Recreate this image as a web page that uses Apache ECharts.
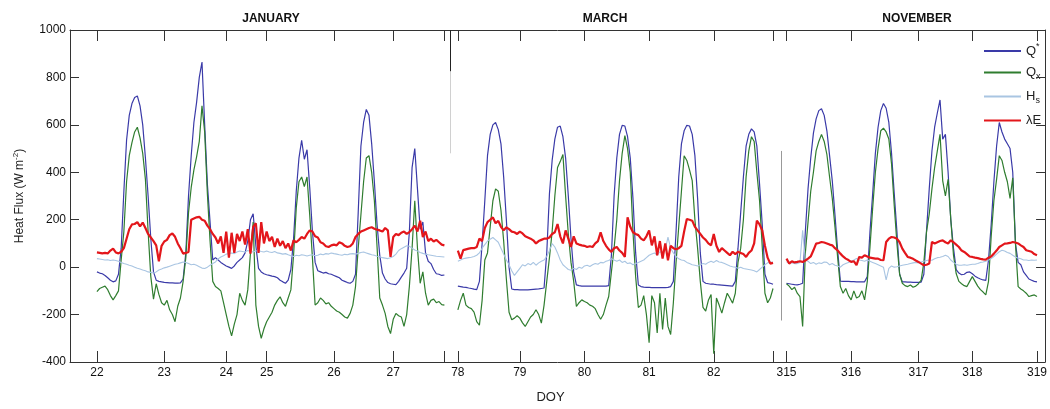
<!DOCTYPE html>
<html><head><meta charset="utf-8">
<script src="https://cdn.jsdelivr.net/npm/echarts@6/dist/echarts.min.js"></script>
<style>html,body{margin:0;padding:0;background:#fff}#c{width:1050px;height:409px}</style>
</head><body><div id="c"></div>
<script>
// hourly sample slots along the broken DOY axis
const N = 363;
const janStart = 10, marStart = 144, novStart = 266;
const tickIdx    = [10, 35, 58, 73, 98, 120, 139, 144, 167, 191, 215, 239, 261, 266, 290, 315, 335, 359];
const tickLabels = ['22','23','24','25','26','27','','78','79','80','81','82','','315','316','317','318','319'];
const monthNames = ['JANUARY', 'MARCH', 'NOVEMBER'];

// Q* (net radiation)
const qStarJan = [-20,-25,-28,-35,-45,-55,-62,-58,-30,80,
320,535,640,690,715,722,680,600,460,300,
120,-20,-55,-60,-62,-64,-65,-66,-66,-67,
-67,-66,-50,60,300,470,610,695,800,865,
600,350,190,30,40,30,20,12,5,0,
-5,5,20,30,40,60,110,200,225,90,
-5,-20,-28,-32,-35,-38,-40,-45,-55,-62,
-68,-55,-10,120,320,460,535,455,495,336,
150,20,-15,-20,-25,-22,-28,-30,-35,-40,
-45,-55,-60,-65,-68,-60,-30,230,510,610,
665,640,520,360,180,50,-25,-50,-65,-70,
-72,-74,-60,-42,-25,-5,150,420,500,330,
160,190,60,25,15,-10,-28,-30,-35,-33];
const qStarMar = [-80,-82,-84,-85,-88,-90,-93,-95,-60,100,
280,470,560,600,610,580,520,380,200,0,
-92,-95,-95,-96,-96,-96,-96,-95,-94,-93,
-92,-90,-88,60,310,450,540,590,595,550,
460,300,120,-20,-75,-78,-80,-80,-80,-80,
-80,-80,-80,-80,-80,-80,-78,50,300,460,
560,598,595,550,460,290,60,-75,-82,-84,
-85,-85,-86,-86,-86,-86,-86,-86,-85,-82,
-60,150,380,520,575,598,595,560,470,290,
60,-60,-68,-70,-72,-72,-74,-75,-76,-77,
-78,-79,-80,-60,80,230,380,510,560,583,
570,510,350,180,-30,-65,-68,-72];
const qStarNov = [-68,-70,-72,-74,-75,-72,-68,150,330,460,
565,625,660,668,640,575,470,364,220,70,
-59,-60,-60,-60,-61,-61,-62,-62,-62,-62,
-40,150,310,480,590,660,690,670,610,480,
310,150,-30,-62,-62,-63,-63,-64,-64,-64,
-63,-30,155,330,490,590,650,705,540,560,
400,200,80,-10,-25,-32,-30,-22,-20,-28,
-38,-45,-50,-54,-56,30,180,360,510,610,
570,540,520,500,400,100,20,10,-20,-35,
-50,-55,-60,-62];

// Qx
const qxJan = [-103,-90,-85,-80,-95,-120,-138,-120,-100,30,
150,360,470,525,570,590,545,480,370,150,
-40,-135,-70,-115,-150,-160,-140,-180,-200,-230,
-165,-130,-60,40,230,336,410,465,530,680,
570,310,110,-60,-82,-90,-100,-150,-200,-250,
-290,-240,-200,-110,-140,-160,-96,60,190,-160,
-250,-300,-260,-230,-210,-190,-160,-140,-125,-150,
-165,-130,-96,50,250,360,380,340,380,220,
40,-160,-150,-130,-140,-155,-150,-165,-175,-185,
-190,-200,-210,-215,-195,-160,-82,80,220,360,
460,470,400,280,85,-130,-160,-195,-250,-280,
-220,-195,-205,-210,-250,-200,-80,80,280,80,
-68,-20,-110,-160,-140,-135,-150,-145,-158,-160];
const qxMar = [-180,-140,-110,-160,-170,-175,-190,-230,-245,-140,
30,60,170,280,330,320,240,110,-50,-190,
-222,-215,-205,-215,-235,-250,-230,-210,-200,-180,
-200,-236,-160,-60,40,150,300,420,445,475,
300,140,20,-60,-166,-150,-138,-145,-150,-160,
-165,-175,-200,-220,-200,-160,-124,-20,80,200,
364,480,555,500,400,150,-40,-170,-160,-120,
-200,-319,-120,-150,-278,-110,-263,-130,-250,-284,
-150,20,170,320,470,450,410,365,200,80,
-60,-170,-185,-140,-115,-365,-130,-160,-194,-150,
-110,-130,-152,-110,20,80,200,380,489,550,
530,400,280,85,-110,-150,-130,-90];
const qxNov = [-70,-80,-95,-85,-110,-124,-250,60,190,320,
400,490,530,560,530,475,380,290,170,40,
-82,-110,-90,-120,-138,-100,-130,-124,-100,-138,
-60,85,250,400,500,575,586,570,540,435,
260,100,-30,-68,-78,-82,-75,-85,-80,-70,
-55,20,150,224,330,420,490,560,364,300,
370,200,50,-27,-60,-70,-78,-82,-60,-40,
-60,-80,-95,-105,-117,-60,130,280,370,470,
450,400,360,290,377,100,-82,-92,-100,-110,
-124,-120,-117,-124];

// Hs
const hsJan = [36,34,32,30,31,28,30,28,25,20,
15,12,8,5,0,-5,-8,-12,-15,-20,
-22,-25,-20,-12,-8,-3,0,4,8,12,
14,18,22,20,15,10,12,8,2,-4,
-6,0,8,15,22,35,43,48,55,57,
60,57,64,68,66,64,70,66,64,68,
70,66,64,68,64,62,66,60,58,55,
57,52,48,45,50,48,52,50,47,50,
52,48,50,55,52,57,55,60,57,55,
52,50,54,52,56,57,55,58,62,64,
60,56,52,50,46,44,40,38,36,40,
45,55,70,78,84,90,88,80,72,68,
62,58,55,52,50,48,46,45,44,43];
const hsMar = [25,30,35,38,40,42,45,50,60,80,
95,110,118,125,115,105,80,55,30,10,
-15,-35,-20,-5,10,5,15,10,20,8,
18,25,30,45,70,99,85,60,30,10,
0,-10,-13,-5,-10,0,-5,5,8,3,
10,15,12,20,18,25,28,35,30,25,
30,20,25,15,18,10,15,20,25,30,
40,50,55,60,50,65,60,75,127,80,
60,45,35,30,28,20,15,10,8,5,
10,15,12,20,25,20,28,22,20,15,
10,5,2,0,-5,0,-6,-8,-10,-12,
-15,-20,-10,0,10,18,22,20];
const hsNov = [22,20,18,15,15,20,155,30,25,15,
20,12,18,15,22,20,10,15,8,5,
0,10,15,20,25,30,36,30,28,25,
30,25,20,15,10,5,0,-54,-5,5,
0,2,5,8,10,12,15,18,20,18,
22,25,28,30,29,35,40,42,45,50,
45,30,20,12,8,8,10,8,10,12,
12,15,20,22,25,30,36,45,55,65,
71,68,62,58,50,43,38,35,30,30,
28,30,29,30];

// lambda E
const leJan = [62,60,58,60,58,70,78,62,58,65,
80,120,160,180,182,190,172,188,165,140,
125,110,92,25,90,108,115,135,142,128,
100,80,57,60,64,200,205,210,212,200,
196,175,160,140,125,100,130,60,150,40,
145,60,140,110,150,95,160,57,170,185,
60,190,100,150,110,128,85,120,90,110,
80,100,70,113,105,115,127,120,140,155,
150,130,125,105,100,88,85,92,95,92,
105,100,90,85,88,100,127,140,150,155,
160,165,168,162,158,155,150,165,155,43,
127,140,135,145,150,140,148,160,175,150,
196,127,150,110,120,108,115,105,95,92];
const leMar = [70,36,72,75,78,80,80,85,120,110,
165,190,200,210,185,195,170,155,168,160,
150,147,140,150,142,130,125,120,113,100,
110,115,120,120,125,140,147,182,130,100,
155,120,85,130,100,95,92,90,85,88,
85,100,110,147,110,90,75,64,80,85,
70,60,43,210,170,147,140,135,120,113,
130,155,92,130,50,110,36,100,29,90,
80,75,80,90,150,203,200,196,170,155,
140,125,115,100,92,140,90,64,80,70,
60,50,65,55,65,60,55,43,60,70,
100,196,180,155,90,40,15,18];
const leNov = [36,15,25,20,22,25,22,28,36,45,
71,99,102,106,104,100,95,92,80,70,
57,45,36,30,22,25,8,43,40,50,
45,40,38,36,36,30,29,106,120,127,
125,120,105,78,60,43,40,35,28,22,
15,8,10,15,106,100,105,110,113,105,
100,113,105,95,85,70,64,55,45,43,
40,38,35,33,32,40,45,57,70,85,
92,99,100,102,106,104,100,92,85,71,
68,65,55,50];

function build(j, m, n) {
  const a = new Array(N).fill(null);
  j.forEach((v, k) => { a[janStart + k] = v; });
  m.forEach((v, k) => { a[marStart + k] = v; });
  n.forEach((v, k) => { a[novStart + k] = v; });
  return a;
}
const cats = Array.from({length: N}, (_, i) => String(i));
const tickSet = new Set(tickIdx);
const labelAt = {};
tickIdx.forEach((t, k) => { labelAt[t] = tickLabels[k]; });

const FONT = 'Liberation Sans, Arial, sans-serif';
const axisCol = '#333';

const chart = echarts.init(document.getElementById('c'), null, {renderer: 'canvas'});
const xBase = {
  type: 'category', data: cats, boundaryGap: false,
  axisLine: {show: true, onZero: false, lineStyle: {color: axisCol, width: 1}},
  axisTick: {show: true, inside: true, length: 11, interval: (i) => tickSet.has(i), lineStyle: {color: axisCol}},
  splitLine: {show: false}
};
const yBase = {
  type: 'value', min: -400, max: 1000, interval: 200,
  axisLine: {show: true, onZero: false, lineStyle: {color: axisCol, width: 1}},
  axisTick: {show: true, inside: true, length: 9, lineStyle: {color: axisCol}},
  splitLine: {show: false}
};
const nameMap = {Qstar: '{m|Q}{sup|*}', Qx: '{m|Q}{sub|x}', Hs: '{m|H}{sub|s}', LE: '{m|λE}'};

chart.setOption({
  animation: false,
  backgroundColor: '#fff',
  textStyle: {fontFamily: FONT},
  grid: {left: 70, top: 30, right: 1, bottom: 43, containLabel: false},
  graphic: monthNames.map((t, k) => ({
    type: 'text', x: [271, 605, 917][k], y: 19,
    style: {text: t, textAlign: 'center', textVerticalAlign: 'middle', font: 'bold 12px ' + FONT, fill: '#111'}
  })),
  legend: {
    orient: 'vertical', left: 983, top: 42, padding: 0, itemWidth: 37, itemHeight: 14, itemGap: 8.5,
    data: ['Qstar', 'Qx', 'Hs', 'LE'],
    itemStyle: {opacity: 0},
    formatter: (n) => nameMap[n],
    textStyle: {
      color: '#222', fontFamily: FONT,
      rich: {
        m: {fontSize: 13, color: '#222', fontFamily: FONT, lineHeight: 18},
        sup: {fontSize: 9, color: '#222', fontFamily: FONT, verticalAlign: 'top'},
        sub: {fontSize: 9, color: '#222', fontFamily: FONT, verticalAlign: 'bottom'}
      }
    }
  },
  xAxis: [
    Object.assign({}, xBase, {
      position: 'bottom',
      axisLabel: {show: true, interval: (i) => tickSet.has(i), formatter: (v, i) => labelAt[i] || '',
                  color: '#111', fontSize: 12, margin: 5, fontFamily: FONT},
      name: 'DOY', nameLocation: 'middle', nameGap: 29,
      nameTextStyle: {color: '#222', fontSize: 13, fontFamily: FONT, padding: [0, 14, 0, 0]}
    }),
    Object.assign({}, xBase, {position: 'top', axisLabel: {show: false}})
  ],
  yAxis: [
    Object.assign({}, yBase, {
      position: 'left',
      axisLabel: {show: true, color: '#111', fontSize: 12, margin: 4, fontFamily: FONT, formatter: (v) => String(v)},
      name: '{m|Heat Flux (W m}{sup|-2}{m|)}', nameLocation: 'middle', nameGap: 43, nameRotate: 90,
      nameTextStyle: {
        color: '#222', fontFamily: FONT,
        rich: {
          m: {fontSize: 12, color: '#222', fontFamily: FONT, lineHeight: 15},
          sup: {fontSize: 8, color: '#222', fontFamily: FONT, verticalAlign: 'top'}
        }
      }
    }),
    Object.assign({}, yBase, {position: 'right', axisLabel: {show: false}})
  ],
  series: [
    {
      name: 'Qstar', type: 'line', data: build(qStarJan, qStarMar, qStarNov),
      symbol: 'none', showSymbol: false, connectNulls: false,
      lineStyle: {color: '#3a3aa8', width: 1.2}, itemStyle: {color: '#3a3aa8'}, z: 2,
      markLine: {
        silent: true, symbol: 'none', label: {show: false},
        data: [
          [{coord: ['141', 1000], lineStyle: {color: '#222', width: 1, type: 'solid'}}, {coord: ['141', 825]}],
          [{coord: ['141', 825], lineStyle: {color: '#d0d0d0', width: 1, type: 'solid'}}, {coord: ['141', 480]}],
          [{coord: ['264', 490], lineStyle: {color: '#999', width: 1, type: 'solid'}}, {coord: ['264', -225]}]
        ]
      }
    },
    {
      name: 'Qx', type: 'line', data: build(qxJan, qxMar, qxNov),
      symbol: 'none', showSymbol: false,
      lineStyle: {color: '#2f7d2f', width: 1.2}, itemStyle: {color: '#2f7d2f'}, z: 3
    },
    {
      name: 'Hs', type: 'line', data: build(hsJan, hsMar, hsNov),
      symbol: 'none', showSymbol: false,
      lineStyle: {color: '#a9c5e2', width: 1.1}, itemStyle: {color: '#a9c5e2'}, z: 4
    },
    {
      name: 'LE', type: 'line', data: build(leJan, leMar, leNov),
      symbol: 'none', showSymbol: false,
      lineStyle: {color: '#e3161b', width: 2.2}, itemStyle: {color: '#e3161b'}, z: 5
    }
  ]
});
</script>
</body></html>
